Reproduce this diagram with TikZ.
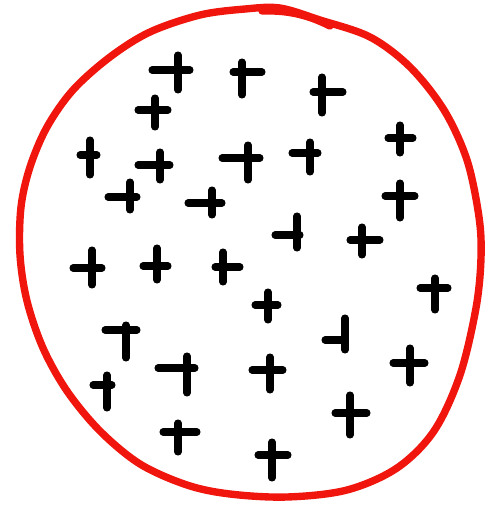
\documentclass[tikz,border=0pt]{standalone}
\usetikzlibrary{calc}
\definecolor{ringred}{RGB}{240,22,14}
\tikzset{
  ring/.style={draw=ringred, line width=4.2pt, line cap=round, line join=round},
  plusbar/.style={draw=black, line width=4pt, line cap=round},
}
\begin{document}
\begin{tikzpicture}[x=0.02cm, y=-0.02cm]
  \useasboundingbox (0,0) rectangle (487,508);
  % the hand drawn ring
  \draw[ring] plot[smooth cycle, tension=0.55] coordinates {
    (280,8) (320,20) (370,37) (410,67) (444,110) (467,160) (479,217)
    (481,258) (476,308) (460,375) (434,431) (397,468) (347,490) (287,497)
    (230,494) (187,485) (140,464) (100,431) (67,391) (43,348) (27,301)
    (20,255) (21,207) (30,167) (47,127) (73,90) (110,57) (150,32)
    (200,15) (245,9)};
  % pen overlap where the ring was closed
  \draw[ring] (262,11) .. controls (290,10) and (310,16) .. (330,26);
  % the plus marks: x of stem / stem top / stem bottom / y of bar / bar left / bar right
  \foreach \sx/\st/\sb/\by/\bl/\br in {
      178/55/90/70/152/190, 242/62/95/72/233/262, 322/77/113/92/313/343,
      155/98/127/110/138/168, 90/140/175/155/80/97, 160/152/180/165/138/170,
      248/145/180/158/222/260, 310/142/172/153/292/318, 400/125/153/138/388/413,
      130/182/210/197/108/137, 212/190/215/203/188/222, 400/183/218/196/385/415,
      297/216/248/235/275/300, 362/227/255/240/350/380, 92/250/285/268/73/102,
      157/248/280/266/143/168, 223/252/282/267/215/240, 435/278/310/288/420/448,
      268/292/320/305/255/278, 126/325/358/330/105/137, 345/318/350/340/325/345,
      187/356/393/368/158/195, 270/357/390/370/252/283, 410/348/383/363/393/425,
      107/375/408/385/93/112, 350/395/435/413/335/367, 178/423/452/432/163/197,
      272/442/478/455/258/288}
  {
    \draw[plusbar] (\sx,\st) -- (\sx,\sb);
    \draw[plusbar] (\bl,\by) -- (\br,\by);
  }
\end{tikzpicture}
\end{document}
